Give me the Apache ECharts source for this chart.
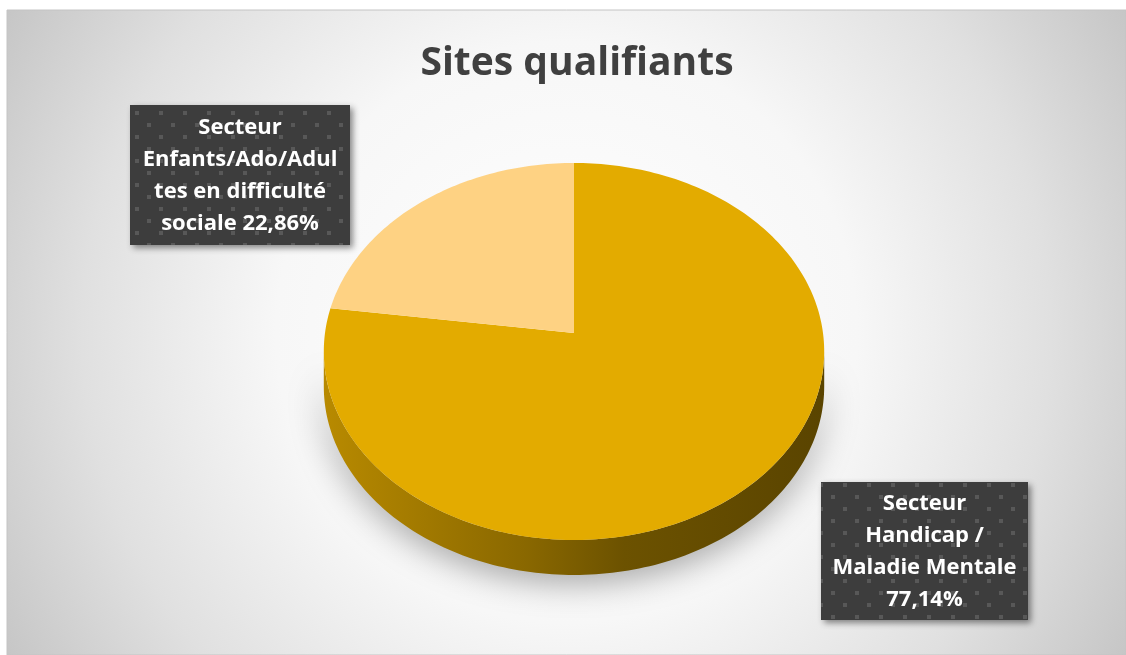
<!DOCTYPE html>
<html>
<head>
<meta charset="utf-8">
<script src="https://cdn.jsdelivr.net/npm/echarts@6/dist/echarts.min.js"></script>
<style>
  html, body { margin: 0; padding: 0; background: #fff; }
  #chart { width: 1126px; height: 655px; }
</style>
</head>
<body>
<div id="chart"></div>
<script>
// data
const categories = ['Secteur Handicap / Maladie Mentale', 'Secteur Enfants/Ado/Adultes en difficulté sociale'];
const shares = [77.14, 22.86];
// label text as Excel wrapped it, {pct} gets the value
const labelTexts = ['Secteur\nHandicap /\nMaladie Mentale\n{pct}', 'Secteur\nEnfants/Ado/Adul\ntes en difficulté\nsociale {pct}'];
const sliceColors = ['#E3AB00', '#FED283'];

// layout of the tilted pie
const CX = 574, CY = 333, RX = 249, RY = 186.7, PERSP = -0.098, DEPTH = 35;
const FRONT_FROM = 95.6 * Math.PI / 180, FRONT_TO = 264.4 * Math.PI / 180;
const labelBoxes = [
  { cx: 924.5, cy: 551, w: 207, h: 138 },
  { cx: 240, cy: 175, w: 220, h: 140 }
];

const total = shares.reduce((a, b) => a + b, 0);
let acc = 0;
const startFrac = shares.map(v => { const s = acc; acc += v; return s / total; });

function proj(theta, dy) {
  const u = Math.sin(theta), v = -Math.cos(theta);
  const d = 1 + PERSP * v;
  return [CX + RX * u / d, CY + RY * v / d + (dy || 0)];
}
function arc(a0, a1, dy) {
  const n = Math.max(8, Math.ceil((a1 - a0) / 0.02));
  const pts = [];
  for (let k = 0; k <= n; k++) pts.push(proj(a0 + (a1 - a0) * k / n, dy));
  return pts;
}

function makeDots() {
  const c = document.createElement('canvas');
  c.width = 24; c.height = 24;
  const g = c.getContext('2d');
  g.fillStyle = '#3d3d3d';
  g.fillRect(0, 0, 24, 24);
  g.fillStyle = '#585858';
  g.fillRect(3, 3, 4, 4);
  g.fillRect(15, 15, 4, 4);
  return c;
}
const dots = makeDots();

const myChart = echarts.init(document.getElementById('chart'));

const option = {
  backgroundColor: '#ffffff',
  animation: false,
  title: {
    text: 'Sites qualifiants',
    left: 572,
    textAlign: 'center',
    top: 39,
    textStyle: { color: '#404040', fontSize: 39, fontWeight: 'bold', fontFamily: '"Open Sans"' }
  },
  graphic: [{
    type: 'rect',
    z: -10,
    shape: { x: 7, y: 10, width: 1119, height: 645 },
    style: {
      fill: new echarts.graphic.RadialGradient(0.5, 0.5, 1, [
        { offset: 0, color: '#ffffff' },
        { offset: 0.45, color: '#f7f7f7' },
        { offset: 0.75, color: '#e0e0e0' },
        { offset: 1, color: '#c6c6c6' }
      ]),
      stroke: '#c4c4c4',
      lineWidth: 1
    }
  }],
  series: [{
    type: 'custom',
    coordinateSystem: 'none',
    data: shares.map((v, i) => ({ name: categories[i], value: v })),
    renderItem: function (params, api) {
      const i = params.dataIndex;
      const val = api.value(0);
      const a0 = startFrac[i] * Math.PI * 2;
      const a1 = a0 + val / total * Math.PI * 2;
      const children = [];

      // visible side wall
      const lo = Math.max(a0, FRONT_FROM), hi = Math.min(a1, FRONT_TO);
      if (hi > lo) {
        const pts = arc(lo, hi, 0).concat(arc(lo, hi, DEPTH).reverse());
        children.push({
          type: 'polygon',
          z2: 1,
          shape: { points: pts },
          style: {
            fill: new echarts.graphic.LinearGradient(0, 0, 1, 0, [
              { offset: 0, color: '#B88A00' },
              { offset: 0.4, color: '#8A6800' },
              { offset: 0.6, color: '#6C5200' },
              { offset: 1, color: '#5A4400' }
            ]),
            shadowBlur: 34,
            shadowColor: 'rgba(0,0,0,0.38)',
            shadowOffsetY: 6
          }
        });
      }

      // top face
      children.push({
        type: 'polygon',
        z2: 10,
        shape: { points: [[CX, CY]].concat(arc(a0, a1, 0)) },
        style: { fill: sliceColors[i] }
      });

      // label box
      const b = labelBoxes[i];
      const pct = val.toFixed(2).replace('.', ',') + '%';
      children.push({
        type: 'rect',
        z2: 20,
        shape: { x: b.cx - b.w / 2, y: b.cy - b.h / 2, width: b.w, height: b.h },
        style: {
          fill: { image: dots, repeat: 'repeat' },
          shadowBlur: 6,
          shadowOffsetX: 3,
          shadowOffsetY: 3,
          shadowColor: 'rgba(0,0,0,0.45)'
        }
      });
      children.push({
        type: 'text',
        z2: 21,
        x: b.cx,
        y: b.cy + 1,
        style: {
          text: labelTexts[i].replace('{pct}', pct),
          fill: '#ffffff',
          fontSize: 22,
          fontWeight: 'bold',
          fontFamily: '"Open Sans"',
          lineHeight: 32,
          align: 'center',
          verticalAlign: 'middle'
        }
      });
      return { type: 'group', children: children };
    }
  }]
};

myChart.setOption(option);
</script>
</body>
</html>
